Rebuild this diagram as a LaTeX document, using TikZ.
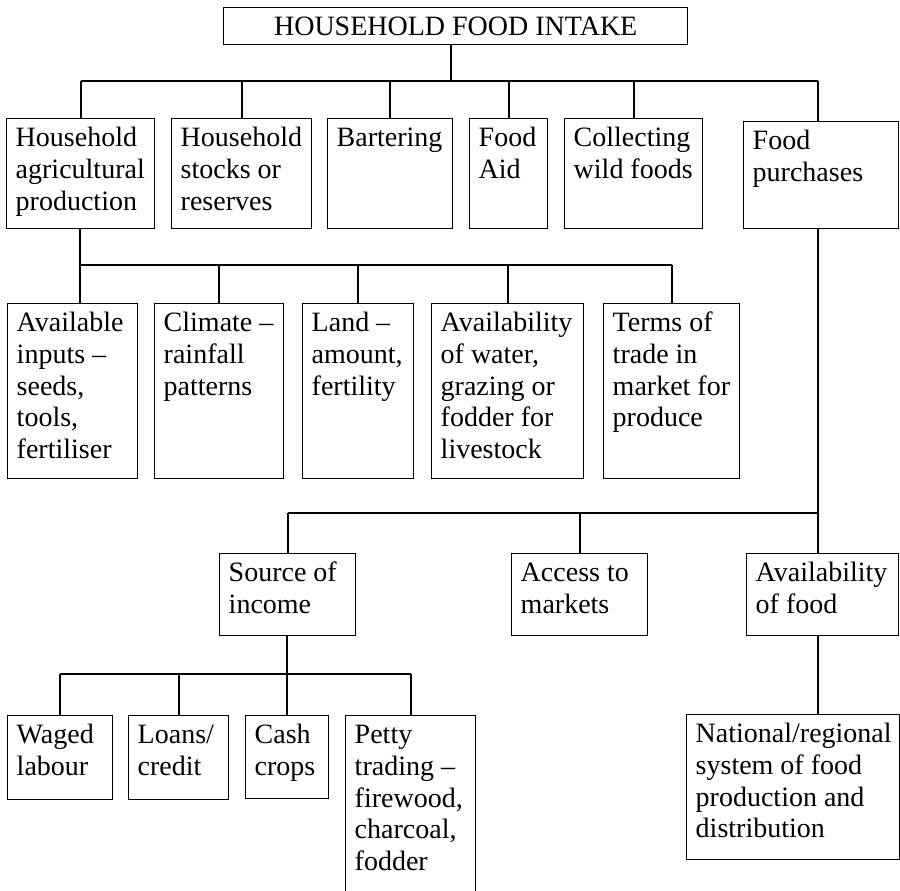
\documentclass[tikz,border=0pt]{standalone}
\usepackage{fontspec}
\setmainfont{Liberation Serif}
\usetikzlibrary{calc}
\tikzset{
  boxnode/.style={draw, line width=1.1pt, inner sep=0pt, anchor=north west,
    font=\fontsize{21}{23.8}\selectfont},
  topnode/.style={draw, line width=1.1pt, inner sep=0pt, anchor=north west,
    minimum width=348pt, minimum height=27.75pt, font=\fontsize{21}{23.8}\selectfont},
  conn/.style={line width=1.5pt}
}
\newcommand{\bx}[6]{%
  \pgfmathsetlengthmacro\bxw{(#4-#2)*0.75}%
  \pgfmathsetlengthmacro\bxh{(#5-#3)*0.75}%
  \node[boxnode] (#1) at (#2,#3) {\parbox[c][\bxh][t]{\bxw}{\raggedright\leftskip=6.75pt\rule{0pt}{21pt}#6}};}
\begin{document}
\begin{tikzpicture}[x=0.75pt,y=-0.75pt]
\useasboundingbox (0,0) rectangle (900,890);
\clip (0,0) rectangle (900,890);
% top
\node[topnode] (top) at (223,7) {HOUSEHOLD FOOD INTAKE};
% level 1
\bx{ha}{6}{118}{154}{228}{Household\\agricultural\\production}
\bx{hs}{171}{118}{311}{228}{Household\\stocks or\\reserves}
\bx{bt}{327}{118}{452}{228}{Bartering}
\bx{fa}{469}{118}{547}{228}{Food\\Aid}
\bx{cw}{564}{118}{702}{228}{Collecting\\wild foods}
\bx{fp}{743}{121}{898}{228}{Food\\purchases}
% level 2
\bx{ai}{7}{303}{137}{478}{Available\\inputs --\\seeds,\\tools,\\fertiliser}
\bx{cl}{154}{303}{283}{478}{Climate --\\rainfall\\patterns}
\bx{ld}{302}{303}{413}{478}{Land --\\amount,\\fertility}
\bx{aw}{431}{303}{583}{478}{Availability\\of water,\\grazing or\\fodder for\\livestock}
\bx{tt}{603}{303}{739}{478}{Terms of\\trade in\\market for\\produce}
% level 3
\bx{si}{219}{553}{355}{635}{Source of\\income}
\bx{am}{511}{553}{647}{635}{Access to\\markets}
\bx{af}{746}{553}{898}{635}{Availability\\of food}
% level 4
\bx{wl}{7}{715}{112}{799}{Waged\\labour}
\bx{lc}{128}{715}{228}{799}{Loans/\\credit}
\bx{cc}{245}{715}{328}{798}{Cash\\crops}
\bx{pt}{345}{715}{475}{900}{Petty\\trading --\\firewood,\\charcoal,\\fodder}
\bx{nr}{686}{714}{899}{859}{National/regional\\system of food\\production and\\distribution}
% junction coordinates
\coordinate (b1) at (451,81);
\coordinate (b2) at (80,265);
\coordinate (j3) at (818,513);
\coordinate (b4) at (287,674);
% top bar
\draw[conn] (top.south -| b1) -- (b1);
\draw[conn] (ha.north |- b1) -- (j3 |- b1);
\foreach \c in {ha,hs,bt,fa,cw}{\draw[conn] (\c.north) -- (\c.north |- b1);}
\draw[conn] (fp.north -| j3) -- (j3 |- b1);
% agricultural production factors
\draw[conn] (ha.south -| b2) -- (ai.north -| b2);
\draw[conn] (b2) -- (tt.north |- b2);
\foreach \c in {cl,ld,aw,tt}{\draw[conn] (\c.north) -- (\c.north |- b2);}
% food purchases
\draw[conn] (fp.south -| j3) -- (af.north -| j3);
\draw[conn] (si.north |- j3) -- (j3);
\draw[conn] (si.north) -- (si.north |- j3);
\draw[conn] (am.north) -- (am.north |- j3);
% source of income
\draw[conn] (si.south -| b4) -- (b4);
\draw[conn] (wl.north |- b4) -- (pt.north |- b4);
\foreach \c in {wl,lc,cc,pt}{\draw[conn] (\c.north) -- (\c.north |- b4);}
% availability of food
\draw[conn] (af.south -| j3) -- (nr.north -| j3);
\end{tikzpicture}
\end{document}
